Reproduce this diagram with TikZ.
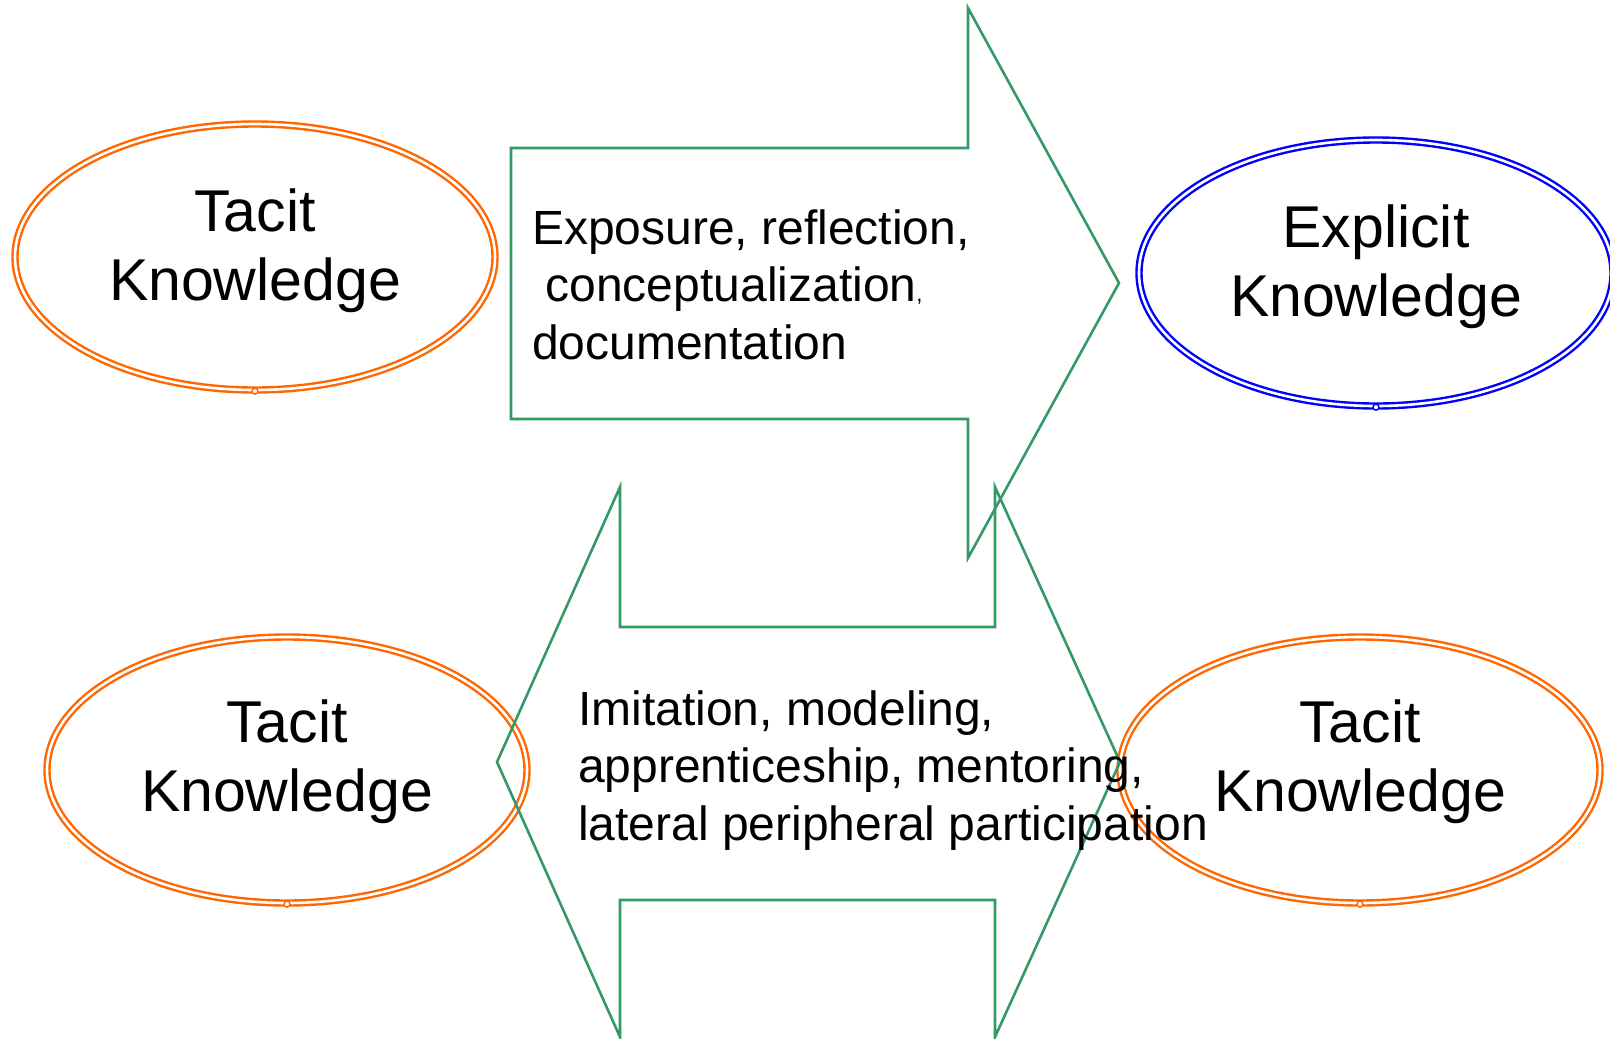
\documentclass[tikz,border=0pt]{standalone}
\usepackage{fontspec}
\setmainfont{Liberation Sans}
\usetikzlibrary{shapes.geometric}
\definecolor{kgreen}{HTML}{339966}
\definecolor{korange}{HTML}{FF6600}
\definecolor{kblue}{HTML}{0000FF}
\begin{document}
\begin{tikzpicture}[x=1pt,y=-1pt,
  flow/.style={draw=kgreen, line width=2.6pt, line join=miter},
  kell/.style={ellipse, inner sep=0pt, minimum width=480pt, minimum height=266pt,
    line width=2.4pt, double=white, double distance=2.6pt},
  kdot/.style={circle, inner sep=0pt, minimum size=6pt, line width=1.4pt, fill=white},
  ktext/.style={anchor=base, inner sep=0pt, font=\fontsize{59}{69}\selectfont},
  atext/.style={anchor=base west, inner sep=0pt, font=\fontsize{48}{57.5}\selectfont},
]
\useasboundingbox (0,0) rectangle (1610,1039);
\clip (0,0) rectangle (1610,1039);

% knowledge ellipses
\node[kell, draw=korange] (tl) at (255,257) {};
\node[kell, draw=kblue, minimum width=474pt] (tr) at (1376,273) {};
\node[kell, draw=korange] (bl) at (287,770) {};
\node[kell, draw=korange] (br) at (1360,770) {};

\node[kdot, draw=korange] (tldot) at (tl.south) {};
\node[kdot, draw=kblue] (trdot) at (tr.south) {};
\node[kdot, draw=korange] (bldot) at (bl.south) {};
\node[kdot, draw=korange] (brdot) at (br.south) {};

% block arrows
\draw[flow] (511,148) -- (968,148) -- (968,8) -- (1119,283) -- (968,558)
  -- (968,419) -- (511,419) -- cycle;
\draw[flow] (497,762) -- (620,487) -- (620,627) -- (995,627) -- (995,487)
  -- (1120,762) -- (995,1037) -- (995,900) -- (620,900) -- (620,1037) -- cycle;

% labels
\node[ktext] (tlt) at ([yshift=26pt]tl.center) {\begin{tabular}[t]{@{}c@{}}Tacit\\Knowledge\end{tabular}};
\node[ktext] (trt) at ([yshift=26pt]tr.center) {\begin{tabular}[t]{@{}c@{}}Explicit\\Knowledge\end{tabular}};
\node[ktext] (blt) at ([yshift=28pt]bl.center) {\begin{tabular}[t]{@{}c@{}}Tacit\\Knowledge\end{tabular}};
\node[ktext] (brt) at ([yshift=28pt]br.center) {\begin{tabular}[t]{@{}c@{}}Tacit\\Knowledge\end{tabular}};

\node[atext] (up) at (532,244) {\begin{tabular}[t]{@{}l@{}}Exposure, reflection,\\
  \ conceptualization{\fontsize{22}{22}\selectfont,}\\documentation\end{tabular}};
\node[atext] (down) at (578,725) {\begin{tabular}[t]{@{}l@{}}Imitation, modeling,\\
  apprenticeship, mentoring,\\lateral peripheral participation\end{tabular}};
\end{tikzpicture}
\end{document}
